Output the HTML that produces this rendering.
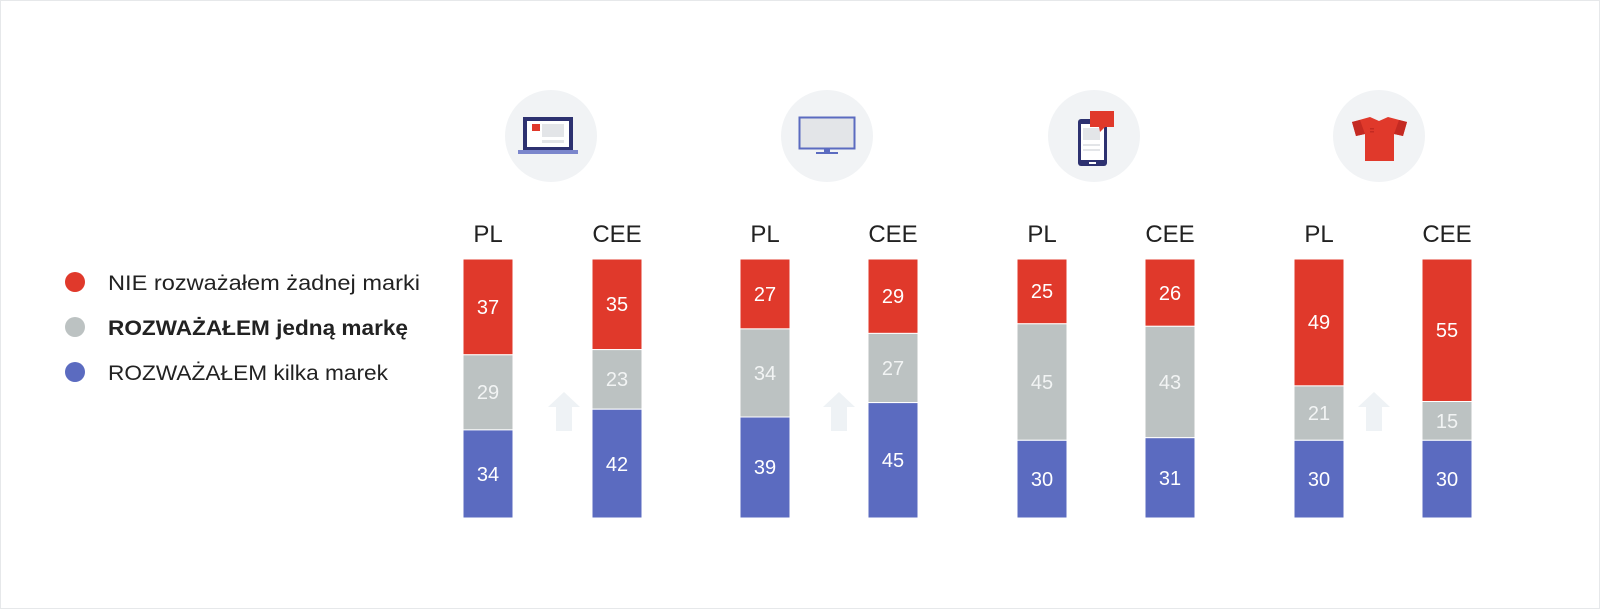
<!DOCTYPE html>
<html><head><meta charset="utf-8"><style>
html,body{margin:0;padding:0;background:#fff}
svg{display:block}
text{font-family:"Liberation Sans",sans-serif}
</style></head><body>
<svg width="1600" height="609" viewBox="0 0 1600 609" xmlns="http://www.w3.org/2000/svg">
<rect x="0.5" y="0.5" width="1599" height="608" fill="#fff" stroke="#e6e8ea"/>
<!-- legend -->
<circle cx="75" cy="282" r="10" fill="#e0392b"/>
<circle cx="75" cy="327" r="10" fill="#bcc2c2"/>
<circle cx="75" cy="372" r="10" fill="#5b6bc0"/>
<g font-size="21" fill="#222">
<text x="108" y="290" textLength="312" lengthAdjust="spacingAndGlyphs">NIE rozważałem żadnej marki</text>
<text x="108" y="335" font-weight="bold" textLength="300" lengthAdjust="spacingAndGlyphs">ROZWAŻAŁEM jedną markę</text>
<text x="108" y="380" textLength="280" lengthAdjust="spacingAndGlyphs">ROZWAŻAŁEM kilka marek</text>
</g>
<!-- icon circles -->
<g fill="#f1f3f5">
<circle cx="551" cy="136" r="46"/><circle cx="827" cy="136" r="46"/>
<circle cx="1094" cy="136" r="46"/><circle cx="1379" cy="136" r="46"/>
</g>
<!-- laptop -->
<rect x="523" y="117" width="50" height="34" fill="#2d3170"/>
<rect x="527" y="121" width="42" height="26" fill="#fff"/>
<rect x="532" y="124" width="8" height="7" fill="#e0392b"/>
<rect x="542" y="124" width="22" height="13" fill="#e3e5e8"/>
<rect x="542" y="140" width="22" height="3" fill="#e3e5e8"/>
<rect x="518" y="150" width="60" height="4" fill="#7b86cc"/>
<!-- tv -->
<rect x="799.5" y="117.5" width="55" height="31" fill="#e3e5e8" stroke="#5b6bc0" stroke-width="2"/>
<rect x="824" y="149" width="6" height="3" fill="#5b6bc0"/>
<rect x="816" y="152" width="22" height="2" fill="#5b6bc0"/>
<!-- phone -->
<rect x="1078" y="119" width="29" height="47" rx="3" fill="#2d3170"/>
<rect x="1081" y="124" width="23" height="36" fill="#fff"/>
<rect x="1083" y="128" width="17" height="12" fill="#e3e5e8"/>
<rect x="1083" y="144" width="17" height="2" fill="#e3e5e8"/>
<rect x="1083" y="149" width="17" height="2" fill="#e3e5e8"/>
<rect x="1089" y="162" width="7" height="2" fill="#fff"/>
<rect x="1090" y="111" width="24" height="16" fill="#e0392b"/>
<polygon points="1099,127 1105,127 1100,132" fill="#e0392b"/>
<!-- shirt -->
<polygon points="1352,122 1370,117 1379,121 1388,117 1407,122 1403,136 1394,134 1394,161 1365,161 1365,134 1356,136" fill="#e0392b"/>
<polygon points="1352,122 1360,120 1365,134 1356,136" fill="#c42a22"/>
<polygon points="1407,122 1399,120 1394,134 1403,136" fill="#c42a22"/>
<rect x="1370" y="128" width="4" height="1.5" fill="#c42a22"/><rect x="1370" y="131" width="4" height="1.5" fill="#c42a22"/>
<!-- labels -->
<g font-size="24" fill="#222" text-anchor="middle">
<text x="488" y="242">PL</text><text x="617" y="242">CEE</text>
<text x="765" y="242">PL</text><text x="893" y="242">CEE</text>
<text x="1042" y="242">PL</text><text x="1170" y="242">CEE</text>
<text x="1319" y="242">PL</text><text x="1447" y="242">CEE</text>
</g>
<!-- arrows -->
<g fill="#eef2f5">
<polygon points="548,407 564,392 580,407 572,407 572,431 556,431 556,407"/>
<polygon points="823,407 839,392 855,407 847,407 847,431 831,431 831,407"/>
<polygon points="1358,407 1374,392 1390,407 1382,407 1382,431 1366,431 1366,407"/>
</g>
<!-- bars -->
<g stroke="#fff" stroke-width="1">
<rect x="463" y="259" width="50" height="95.8" fill="#e0392b"/><rect x="463" y="354.8" width="50" height="75.1" fill="#bcc2c2"/><rect x="463" y="429.9" width="50" height="88.1" fill="#5b6bc0"/>
<rect x="592" y="259" width="50" height="90.6" fill="#e0392b"/><rect x="592" y="349.6" width="50" height="59.6" fill="#bcc2c2"/><rect x="592" y="409.2" width="50" height="108.8" fill="#5b6bc0"/>
<rect x="740" y="259" width="50" height="69.9" fill="#e0392b"/><rect x="740" y="328.9" width="50" height="88.1" fill="#bcc2c2"/><rect x="740" y="417" width="50" height="101" fill="#5b6bc0"/>
<rect x="868" y="259" width="50" height="74.4" fill="#e0392b"/><rect x="868" y="333.4" width="50" height="69.2" fill="#bcc2c2"/><rect x="868" y="402.6" width="50" height="115.4" fill="#5b6bc0"/>
<rect x="1017" y="259" width="50" height="64.8" fill="#e0392b"/><rect x="1017" y="323.8" width="50" height="116.5" fill="#bcc2c2"/><rect x="1017" y="440.3" width="50" height="77.7" fill="#5b6bc0"/>
<rect x="1145" y="259" width="50" height="67.3" fill="#e0392b"/><rect x="1145" y="326.3" width="50" height="111.4" fill="#bcc2c2"/><rect x="1145" y="437.7" width="50" height="80.3" fill="#5b6bc0"/>
<rect x="1294" y="259" width="50" height="126.9" fill="#e0392b"/><rect x="1294" y="385.9" width="50" height="54.4" fill="#bcc2c2"/><rect x="1294" y="440.3" width="50" height="77.7" fill="#5b6bc0"/>
<rect x="1422" y="259" width="50" height="142.5" fill="#e0392b"/><rect x="1422" y="401.5" width="50" height="38.8" fill="#bcc2c2"/><rect x="1422" y="440.3" width="50" height="77.7" fill="#5b6bc0"/>
</g>
<g font-size="20" fill="#fff" text-anchor="middle">
<text x="488" y="314">37</text><text x="488" y="399" fill="#f2f4f4">29</text><text x="488" y="481">34</text>
<text x="617" y="311">35</text><text x="617" y="386" fill="#f2f4f4">23</text><text x="617" y="471">42</text>
<text x="765" y="301">27</text><text x="765" y="380" fill="#f2f4f4">34</text><text x="765" y="474">39</text>
<text x="893" y="303">29</text><text x="893" y="375" fill="#f2f4f4">27</text><text x="893" y="467">45</text>
<text x="1042" y="298">25</text><text x="1042" y="389" fill="#f2f4f4">45</text><text x="1042" y="486">30</text>
<text x="1170" y="300">26</text><text x="1170" y="389" fill="#f2f4f4">43</text><text x="1170" y="485">31</text>
<text x="1319" y="329">49</text><text x="1319" y="420" fill="#f2f4f4">21</text><text x="1319" y="486">30</text>
<text x="1447" y="337">55</text><text x="1447" y="428" fill="#f2f4f4">15</text><text x="1447" y="486">30</text>
</g>
</svg>
</body></html>
